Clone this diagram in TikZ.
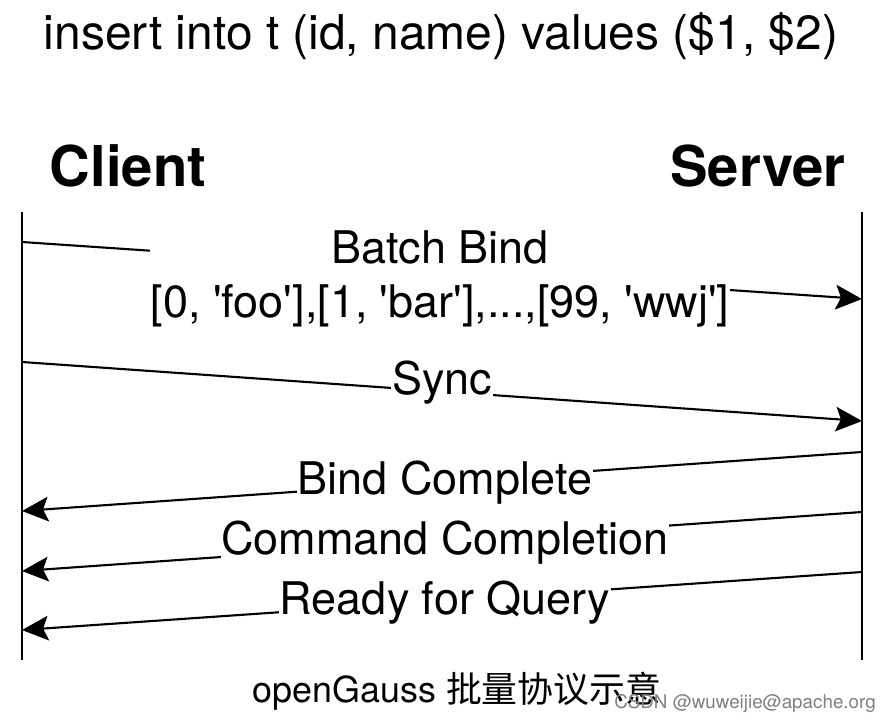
\documentclass[tikz,border=0pt]{standalone}
\usepackage{fontspec}
\setmainfont{TeX Gyre Heros}
\newfontfamily\cjk{Noto Sans CJK SC}
\usetikzlibrary{arrows.meta}
\newcommand{\qt}{\textquotesingle}

\begin{document}
\begin{tikzpicture}[x=0.02cm,y=-0.02cm,
	life/.style={line width=1.2pt},
	msg/.style={line width=1.2pt,-{Stealth[length=15pt,width=14pt,inset=3pt]}},
	lbl/.style={fill=white,inner sep=0.5pt,align=center,font=\fontsize{25.6}{31}\selectfont},
	actor/.style={font=\fontsize{32}{36}\selectfont\bfseries}]
	\useasboundingbox (0,0) rectangle (888,723);
	
	\node[font=\fontsize{27.3}{32}\selectfont] (title) at (441,36) {insert into t (id, name) values (\$1, \$2)};
	\node[actor] (client) at (128,166) {Client};
	\node[actor] (server) at (758,166) {Server};
	
	% lifelines
	\coordinate (ctop) at (22,212);
	\coordinate (cbot) at (22,660);
	\coordinate (stop) at (862,212);
	\coordinate (sbot) at (862,660);
	\draw[life] (ctop) -- (cbot);
	\draw[life] (stop) -- (sbot);
	
	% message ends
	\coordinate (c1) at (22,242);   \coordinate (s1) at (862,299);
	\coordinate (c2) at (22,362);   \coordinate (s2) at (862,421);
	\coordinate (s3) at (862,452);  \coordinate (c3) at (22,511);
	\coordinate (s4) at (862,512);  \coordinate (c4) at (22,571);
	\coordinate (s5) at (862,572);  \coordinate (c5) at (22,630);
	
	\draw[msg] (c1) -- (s1);
	\draw[msg] (c2) -- (s2);
	\draw[msg] (s3) -- (c3);
	\draw[msg] (s4) -- (c4);
	\draw[msg] (s5) -- (c5);
	
	\node[lbl] (bind) at (440,279) {Batch Bind\\{}[0, \qt foo\qt],[1, \qt bar\qt],...,[99, \qt wwj\qt]};
	\node[lbl] (sync) at (442,383) {Sync};
	\node[lbl] (bindok) at (445,483) {Bind Complete};
	\node[lbl] (cmdok) at (445,543) {Command Completion};
	\node[lbl] (ready) at (445,603) {Ready for Query};
	
	\node[font=\fontsize{20.4}{24}\selectfont] (caption) at (457,691) {openGauss {\cjk 批量协议示意}};
	\node[font=\fontsize{10.7}{13}\selectfont,text=gray] (mark) at (745,704) {CSDN @wuweijie@apache.org};
\end{tikzpicture}
\end{document}
